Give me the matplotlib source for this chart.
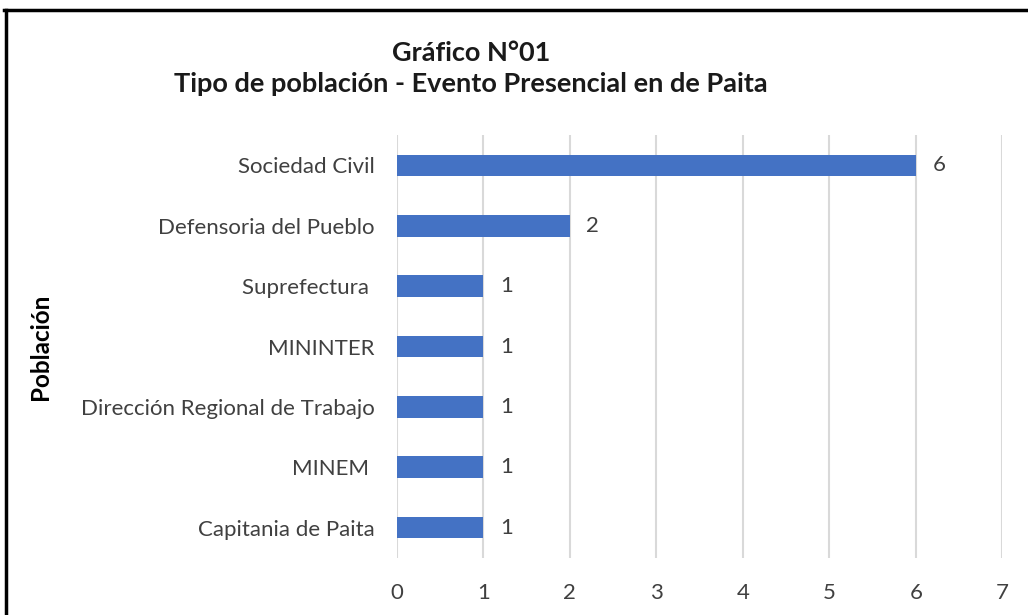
import matplotlib.pyplot as plt
from matplotlib.lines import Line2D

# data (top to bottom)
categorias = ['Sociedad Civil', 'Defensoria del Pueblo', 'Suprefectura ', 'MININTER',
              'Dirección Regional de Trabajo', 'MINEM ', 'Capitania de Paita']
valores = [6, 2, 1, 1, 1, 1, 1]
ticks_x = [0, 1, 2, 3, 4, 5, 6, 7]

plt.rcParams['font.family'] = ['Lato', 'DejaVu Sans']

fig = plt.figure(figsize=(10.28, 6.15), dpi=100)
ax = fig.add_axes([0.386, 0.093, 0.589, 0.687])

pos = list(range(len(categorias)))
bars = ax.barh(pos, valores, height=0.36, color='#4472C4', zorder=3)
ax.set_ylim(len(categorias) - 0.5, -0.5)
ax.set_yticks(pos)
ax.set_yticklabels(categorias, fontsize=16, color='#404040')
ax.set_xlim(0, 7)
ax.set_xticks(ticks_x)
ax.set_xticklabels([str(t) for t in ticks_x], fontsize=16, color='#404040')
ax.tick_params(length=0, pad=16)
ax.tick_params(axis='x', pad=18)
ax.grid(axis='x', color='#d9d9d9', linewidth=1.5, zorder=0)
for s in ax.spines.values():
    s.set_visible(False)

for b, v in zip(bars, valores):
    ax.annotate(str(v), (b.get_width(), b.get_y() + b.get_height() / 2),
                xytext=(12, 0), textcoords='offset points', va='center',
                fontsize=16, color='#404040')

ax.set_ylabel('Población', fontsize=17.5, fontweight='bold', color='black')
ax.yaxis.set_label_coords(-0.57, 0.5)

fig.text(0.458, 0.914, 'Gráfico N°01', ha='center', va='center',
         fontsize=19.5, fontweight='bold', color='#1a1a1a')
fig.text(0.458, 0.864, 'Tipo de población - Evento Presencial en de Paita',
         ha='center', va='center', fontsize=19.5, fontweight='bold', color='#1a1a1a')

# black frame (left and top edges visible in the picture)
fig.add_artist(Line2D([0.0055, 0.0055], [0, 1 - 10 / 615], color='black',
                      linewidth=2.5, transform=fig.transFigure))
fig.add_artist(Line2D([0.0042, 1], [1 - 10 / 615, 1 - 10 / 615], color='black',
                      linewidth=2.5, transform=fig.transFigure))

fig.savefig('out.png', dpi=100)
